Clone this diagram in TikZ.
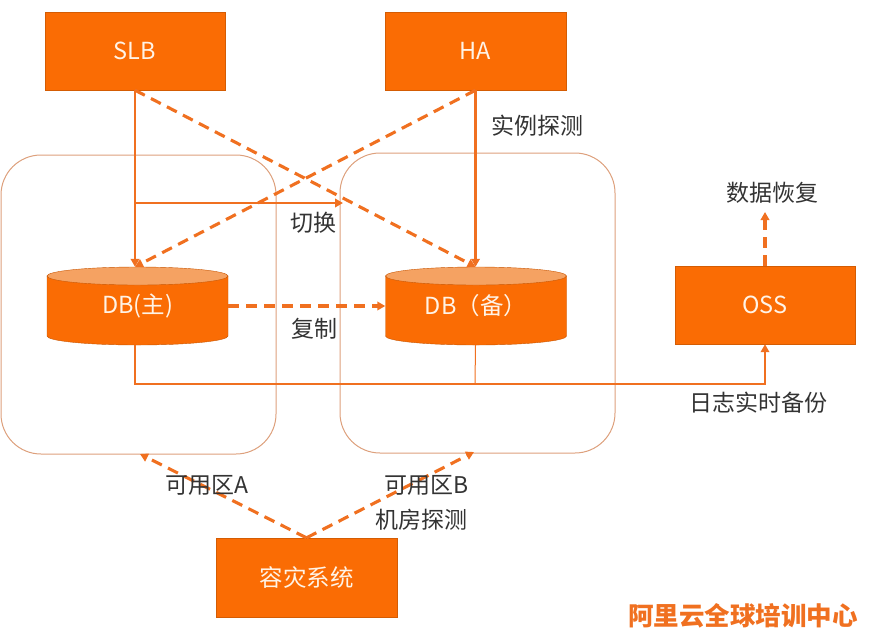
\documentclass[tikz,border=0pt]{standalone}
\usepackage{fontspec}
\setmainfont{Noto Sans CJK SC}
\usetikzlibrary{arrows.meta}
\definecolor{boxor}{HTML}{FA6C04}
\definecolor{lineor}{HTML}{F07020}
\definecolor{captop}{HTML}{F5A262}
\definecolor{zoneb}{HTML}{DDA07C}
\definecolor{txt}{HTML}{333333}
\definecolor{boxtxt}{HTML}{FFF3E6}
\tikzset{
  obox/.style={rectangle, fill=boxor, draw=boxor!85!black, line width=0.4pt, inner sep=0pt, text=boxtxt, font=\fontsize{23.5}{26}\selectfont},
  dbnode/.style={rectangle, inner sep=0pt, minimum width=181pt, minimum height=78pt, text=boxtxt, font=\fontsize{23.5}{26}\selectfont},
  zone/.style={draw=zoneb, line width=1pt, rounded corners=40pt},
  lbl/.style={text=txt, font=\fontsize{23}{26}\selectfont, inner sep=0pt},
  tip/.style={-{Triangle[length=8pt,width=8.5pt]}},
  sline/.style={draw=lineor, line width=2.6pt, tip},
  dline/.style={draw=lineor, line width=3.1pt, dash pattern=on 11pt off 7pt, tip},
}
\begin{document}
\begin{tikzpicture}[x=1pt,y=-1pt]
\useasboundingbox (0,0) rectangle (870,630);
% zones
\draw[zone] (1,155) rectangle (276,454);
\draw[zone] (340,153) rectangle (615,453);
% boxes
\node[obox, minimum width=180pt, minimum height=78pt] (slb) at (135,51) {SLB};
\node[obox, minimum width=181pt, minimum height=78pt] (ha) at (475.5,51) {HA};
\node[obox, minimum width=180pt, minimum height=78pt] (oss) at (765,305) {OSS};
\node[obox, minimum width=181pt, minimum height=79pt] (dr) at (306.5,577.5) {容灾系统};
% cylinders
\foreach \cx in {137.5, 476}{
  \fill[boxor] (\cx-90.5,276) -- (\cx-90.5,336) arc[start angle=180,end angle=0,x radius=90.5,y radius=9] -- (\cx+90.5,276) -- cycle;
  \draw[boxor!80!black, line width=0.4pt] (\cx-90.5,276) -- (\cx-90.5,336) arc[start angle=180,end angle=0,x radius=90.5,y radius=9] -- (\cx+90.5,276);
  \draw[fill=captop, draw=boxor!80!black, line width=0.4pt] (\cx,276) ellipse[x radius=90.5, y radius=9];
}
\node[dbnode] (dbm) at (137.5,306) {\raisebox{-5pt}{DB(主)}};
\node[dbnode] (dbs) at (476,306) {\raisebox{-5pt}{DB（备）}};
% coordinates
\coordinate (sw) at (135,203);
\coordinate (swend) at (343,203);
\coordinate (logl) at (135,384);
\coordinate (logr) at (765,384);
\coordinate (logs) at (475,384);
\coordinate (rec) at (765,212);
\coordinate (zA) at (140,454);
\coordinate (zB) at (474,452);
% connectors
\draw[sline] (slb.south) -- (dbm.north -| slb.south);
\draw[sline] (sw) -- (swend);
\draw[sline] (ha.south) -- (dbs.north -| ha.south);
\draw[dline] (slb.south) -- (dbs.north -| ha.south);
\draw[dline] (ha.south) -- (dbm.north -| slb.south);
\draw[dline] (dbm.east) -- (dbs.west);
\draw[sline] (dbm.south -| slb.south) -- (logl) -- (logr) -- (oss.south);
\draw[draw=lineor, line width=1pt] (dbs.south -| ha.south) -- (logs);
\draw[dline] (oss.north) -- (rec);
\draw[dline] (dr.north) -- (zA);
\draw[dline] (dr.north) -- (zB);
% labels
\node[lbl] (l1) at (537,126) {实例探测};
\node[lbl] (l2) at (313,223) {切换};
\node[lbl] (l3) at (314,329) {复制};
\node[lbl] (l4) at (772,193) {数据恢复};
\node[lbl] (l5) at (758,403) {日志实时备份};
\node[lbl] (l6) at (207,485) {可用区A};
\node[lbl] (l7) at (427,485) {可用区B};
\node[lbl] (l8) at (421,520) {机房探测};
\node[text=lineor, font=\fontsize{25.5}{28}\selectfont\bfseries, inner sep=0pt] (wm) at (743,616) {阿里云全球培训中心};
\end{tikzpicture}
\end{document}
